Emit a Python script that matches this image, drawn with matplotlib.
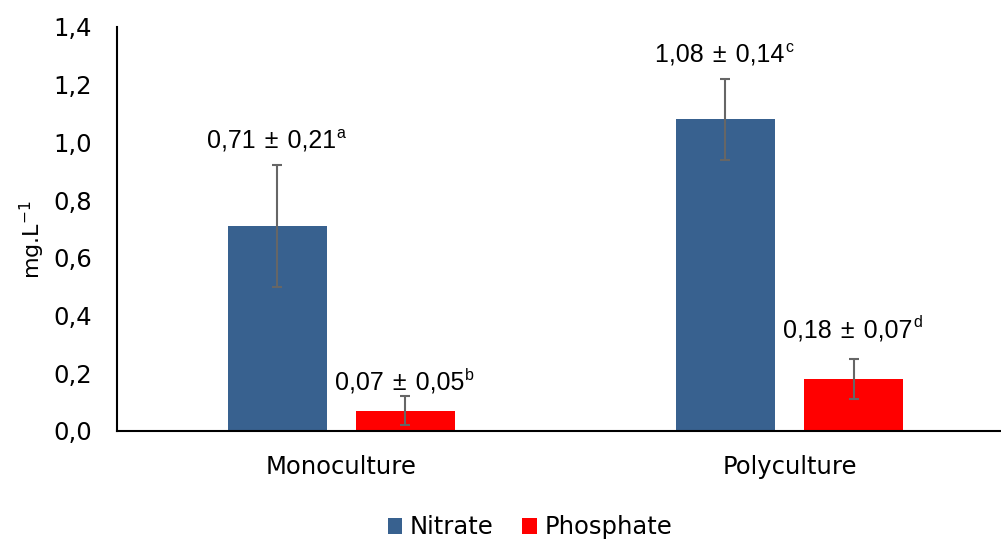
import numpy as np
import matplotlib
matplotlib.use("Agg")
import matplotlib.pyplot as plt

# ── data ──────────────────────────────────────────────────────────────────────
categories = ["Monoculture", "Polyculture"]
series     = ["Nitrate", "Phosphate"]
nitrate    = [0.71, 1.08]
nitrate_sd = [0.21, 0.14]
phosph     = [0.07, 0.18]
phosph_sd  = [0.05, 0.07]
letters_n  = ["a", "c"]
letters_p  = ["b", "d"]

NITRATE_COLOR = "#38618f"
PHOSPH_COLOR  = "#ff0000"
ERR_COLOR     = "#666666"

fig = plt.figure(figsize=(10.01, 5.43), dpi=100)
ax = fig.add_axes([0.117, 0.2063, 0.883, 0.744])

x = np.arange(len(categories))
w = 0.221
off = 0.143
err_kw = dict(ecolor=ERR_COLOR, elinewidth=1.5, capsize=3.5, capthick=1.5)
ax.bar(x - off, nitrate, w, yerr=nitrate_sd, color=NITRATE_COLOR, label=series[0], error_kw=err_kw)
ax.bar(x + off, phosph, w, yerr=phosph_sd, color=PHOSPH_COLOR, label=series[1], error_kw=err_kw)

def fmt(v):
    return f"{v:.2f}".replace(".", ",")

SP = " \u200a"

def label(xc, ytop, mean, sd, letter, pad):
    t = ax.annotate(f"{fmt(mean)}{SP}±{SP}{fmt(sd)}", (xc, ytop), xytext=(-4, pad),
                    textcoords="offset points", ha="center", va="bottom",
                    fontsize=18, family="Liberation Sans")
    ax.annotate(letter, xy=(1, 1), xycoords=t, xytext=(0.5, 2), textcoords="offset points",
                ha="left", va="top", fontsize=11.5, family="Liberation Sans")

# value labels above error bars (offsets in points)
n_pad = [9, 9]
p_pad = [1, 12]
for i in range(len(categories)):
    label(x[i] - off, nitrate[i] + nitrate_sd[i], nitrate[i], nitrate_sd[i], letters_n[i], n_pad[i])
    label(x[i] + off, phosph[i] + phosph_sd[i], phosph[i], phosph_sd[i], letters_p[i], p_pad[i])

ax.set_xlim(-0.5, 1.472)
ax.set_ylim(0, 1.4)
ticks = np.arange(0, 1.41, 0.2)
ax.set_yticks(ticks)
ax.set_yticklabels([f"{v:.1f}".replace(".", ",") for v in ticks])
ax.set_xticks(x)
ax.set_xticklabels(categories)
ax.tick_params(axis="y", length=0, pad=18, labelsize=17.5)
ax.tick_params(axis="x", length=0, pad=17, labelsize=17.5)
for s in ["top", "right"]:
    ax.spines[s].set_visible(False)
ax.spines["left"].set_linewidth(1.5)
ax.spines["bottom"].set_linewidth(1.5)
ax.set_ylabel("mg.L$^{\\mathregular{-1}}$", fontsize=16)
ax.yaxis.set_label_coords(-0.079, 0.473)

ax.legend(loc="upper center", bbox_to_anchor=(0.467, -0.155), ncol=2, frameon=False,
          fontsize=17.5, handlelength=0.6, handleheight=0.6, handletextpad=0.3,
          columnspacing=1.2)

fig.savefig("out.png", dpi=100)
